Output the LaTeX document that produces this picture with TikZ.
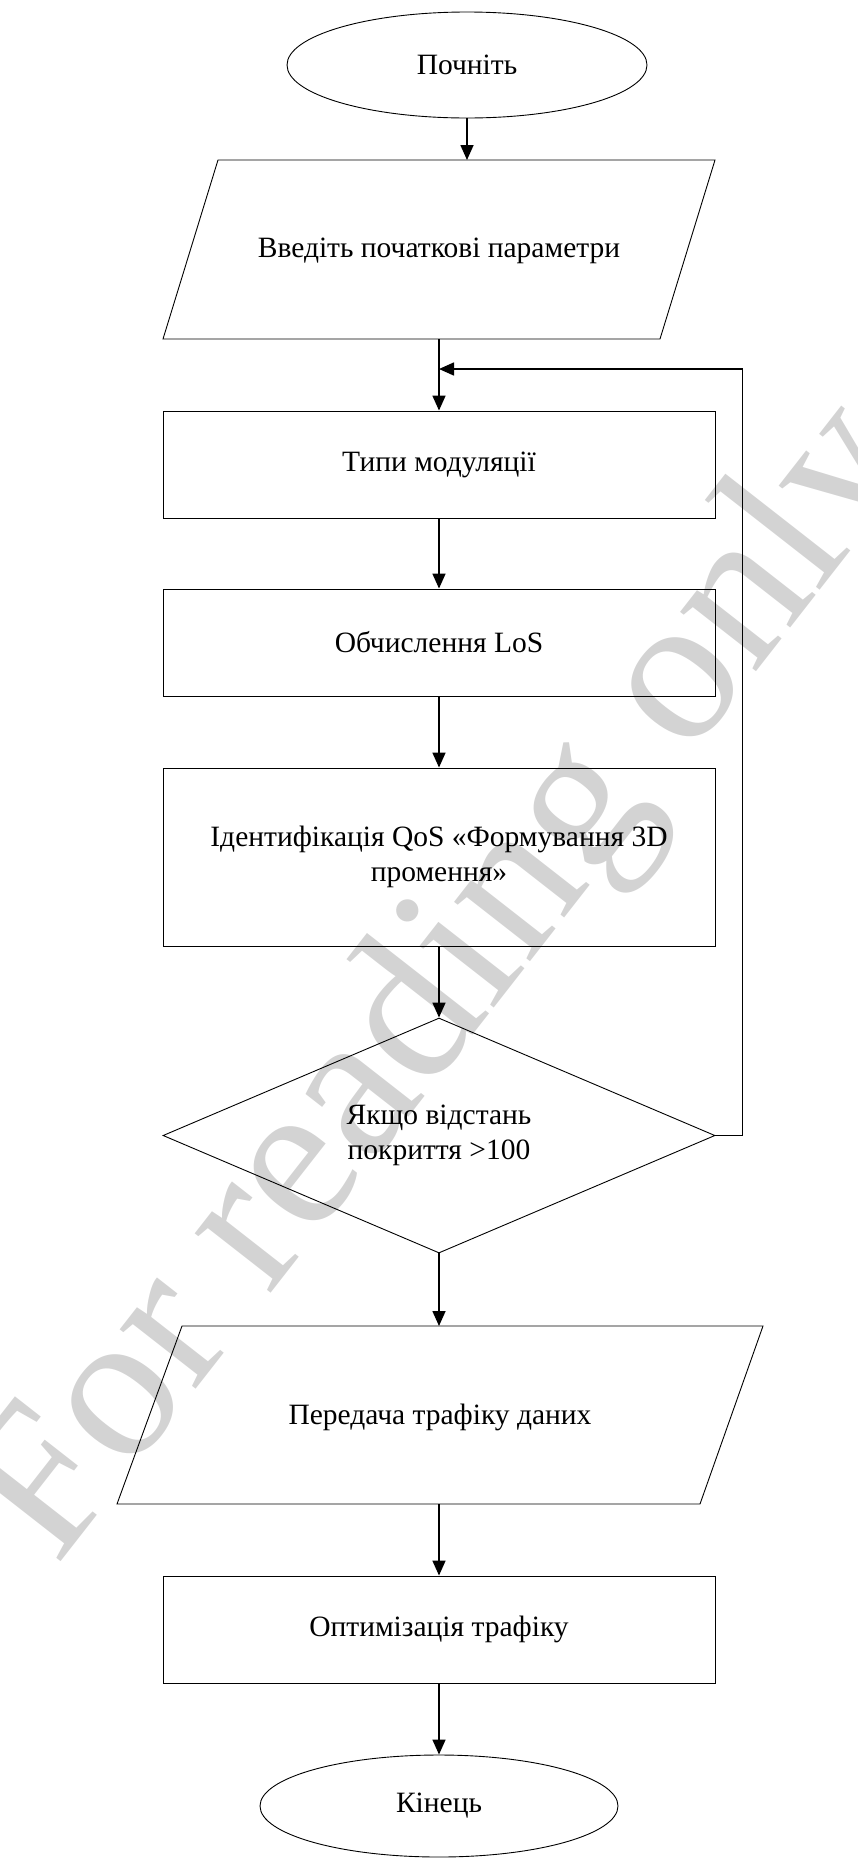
\documentclass[tikz,border=0pt]{standalone}
\usepackage{fontspec}
\setmainfont{Liberation Serif}
\usetikzlibrary{arrows.meta,shapes.geometric}
\definecolor{wmgray}{RGB}{211,211,211}
\tikzset{
  shapeline/.style={draw=black,line width=0.9pt},
  txt/.style={font=\fontsize{29.5}{35}\selectfont,align=center,inner sep=0pt},
  term/.style={shapeline,ellipse,inner sep=0pt,txt},
  proc/.style={shapeline,rectangle,minimum width=552pt,inner sep=0pt,txt},
  decide/.style={shapeline,diamond,aspect=2.35,minimum width=552pt,minimum height=235pt,inner sep=0pt,txt},
  arr/.style={line width=1.6pt,-{Triangle[length=15pt,width=13pt]}},
  wm/.style={text=wmgray,font=\fontsize{210}{210}\selectfont,inner sep=0pt}
}
\begin{document}
\begin{tikzpicture}[x=1pt,y=-1pt]
\useasboundingbox (0,0) rectangle (858,1861);
% watermark
\node[wm,rotate=52] (wmark) at (448,985) {For reading only};
% start
\node[term,minimum width=360pt,minimum height=106pt] (start) at (467,65) {Почніть};
% input parallelogram
\draw[shapeline] (218,160) -- (715,160) -- (660,339) -- (163,339) -- cycle;
\node[txt] (input) at (439,251) {Введіть початкові параметри};
\coordinate (inputtop) at (467,160);
\coordinate (inputbot) at (439,339);
% processes
\node[proc,minimum height=107pt] (mod) at (439,464.5) {Типи модуляції};
\node[proc,minimum height=107pt] (los) at (439,642.5) {Обчислення LoS};
\node[proc,minimum height=178pt] (qos) at (439,857) {Ідентифікація QoS «Формування 3D\\промення»};
% decision
\node[decide] (dec) at (439,1135.5) {Якщо відстань\\покриття >100};
% output parallelogram
\draw[shapeline] (182,1326) -- (763,1326) -- (700,1504) -- (117,1504) -- cycle;
\node[txt] (send) at (440,1417) {Передача трафіку даних};
\coordinate (sendtop) at (439,1326);
\coordinate (sendbot) at (439,1504);
% optimisation
\node[proc,minimum height=107pt] (opt) at (439,1629.5) {Оптимізація трафіку};
% end
\node[term,minimum width=358pt,minimum height=102pt] (end) at (439,1806) {Кінець};
% connectors
\coordinate (fb) at (439,369);
\draw[arr] (start.south) -- (inputtop);
\draw[arr] (inputbot) -- (mod.north);
\draw[arr] (mod.south) -- (los.north);
\draw[arr] (los.south) -- (qos.north);
\draw[arr] (qos.south) -- (dec.north);
\draw[arr] (dec.south) -- (sendtop);
\draw[arr] (sendbot) -- (opt.north);
\draw[arr] (opt.south) -- (end.north);
\draw[arr] (dec.east) -- ++(27,0) |- (fb);
\end{tikzpicture}
\end{document}
